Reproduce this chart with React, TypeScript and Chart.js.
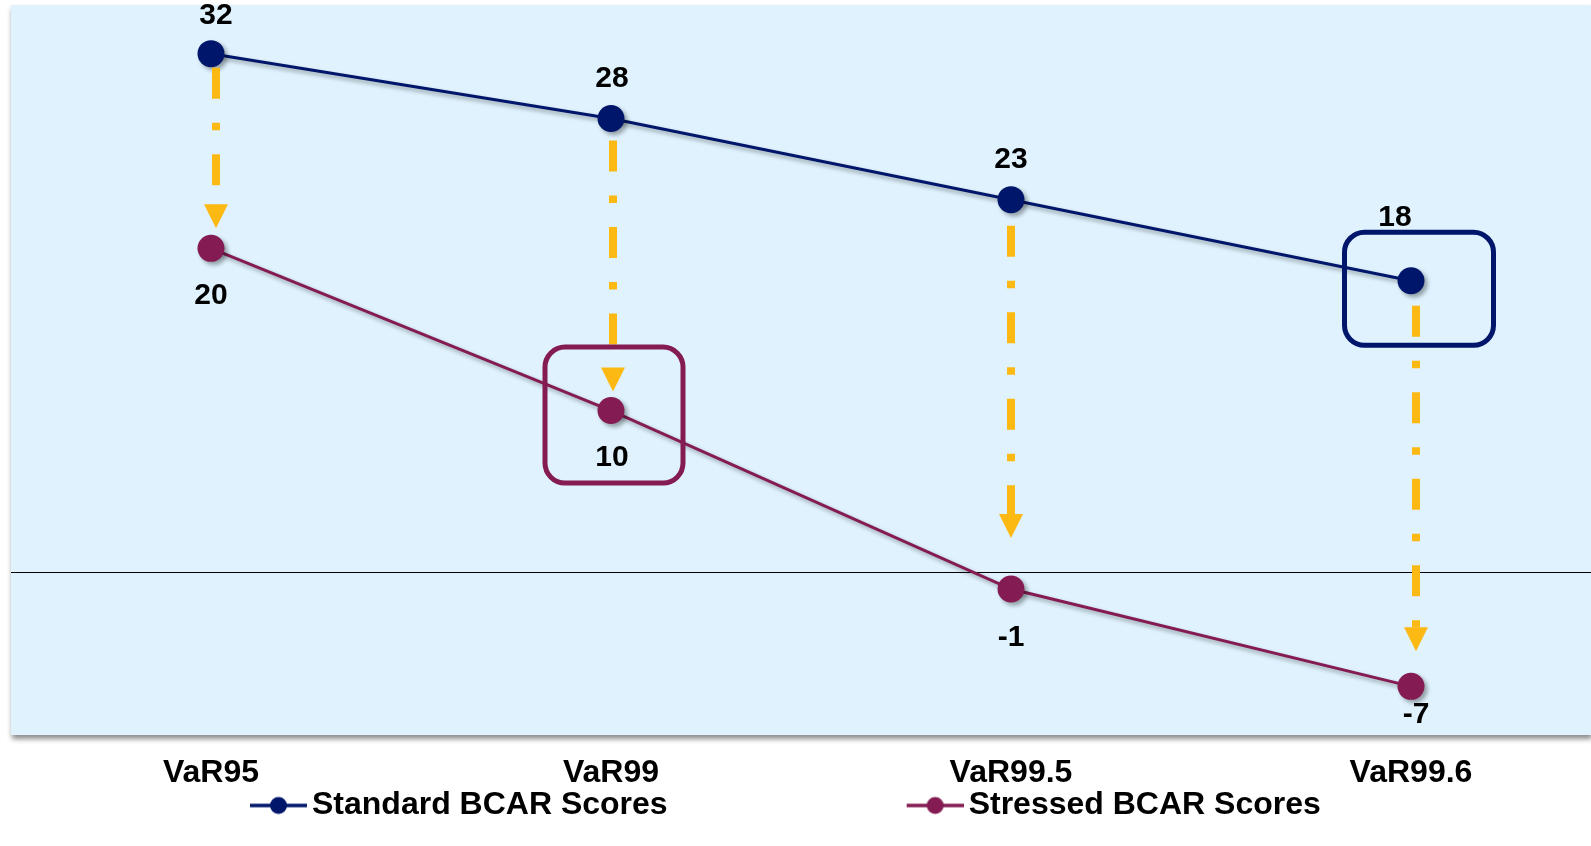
import React, { useEffect, useRef } from "react";
import { Chart, registerables } from "chart.js";

Chart.register(...registerables);

// ---------- data ----------
const categories = ["VaR95", "VaR99", "VaR99.5", "VaR99.6"];
const standardScores = [32, 28, 23, 18];
const stressedScores = [20, 10, -1, -7];
const seriesNames = ["Standard BCAR Scores", "Stressed BCAR Scores"];
const yMin = -10;
const yMax = 35;

// ---------- styles ----------
const NAVY = "#00166B";
const PLUM = "#841B52";
const GOLD = "#FDB913";
const PLOT_BG = "#DFF2FD";
const SANS = '"Liberation Sans", Arial, sans-serif';

const labelOffsets = [
  [{ dx: 5, dy: -37.5 }, { dx: 1, dy: -39.5 }, { dx: 0, dy: -39.5 }, { dx: -16, dy: -63.5 }],
  [{ dx: 0, dy: 47.5 }, { dx: 1, dy: 47.5 }, { dx: 0, dy: 48.5 }, { dx: 5, dy: 28 }],
];
const arrowGaps = [
  { dx: 5, start: 14, end: 20 },
  { dx: 2, start: 22, end: 19 },
  { dx: 0, start: 26, end: 51 },
  { dx: 5, start: 25, end: 35 },
];
const highlights = [
  { dataset: 1, index: 1, dx: 3, dy: 4.5, w: 138, h: 136, color: PLUM },
  { dataset: 0, index: 3, dx: 8, dy: 8, w: 149, h: 113, color: NAVY },
];

const LEGEND_FONT = 32;
const LEGEND_PAD = 285;

function makeMarker(color: string): HTMLCanvasElement {
  const len = 57;
  const c = document.createElement("canvas");
  c.width = LEGEND_PAD + LEGEND_FONT - 10;
  c.height = 20;
  const g = c.getContext("2d")!;
  const x0 = c.width - len;
  g.strokeStyle = color;
  g.lineWidth = 3.5;
  g.beginPath();
  g.moveTo(x0, 10);
  g.lineTo(c.width, 10);
  g.stroke();
  g.fillStyle = color;
  g.beginPath();
  g.arc(x0 + len / 2, 10, 8.5, 0, Math.PI * 2);
  g.fill();
  return c;
}

export default function App() {
  const ref = useRef<HTMLCanvasElement | null>(null);

  useEffect(() => {
    if (!ref.current) return;
    const markers = [makeMarker(NAVY), makeMarker(PLUM)];

    const plotBg = {
      id: "plotBg",
      beforeDraw(chart: any) {
        const { ctx, chartArea: a } = chart;
        ctx.save();
        ctx.shadowColor = "rgba(0,0,0,0.45)";
        ctx.shadowBlur = 5;
        ctx.shadowOffsetX = 1;
        ctx.shadowOffsetY = 4;
        ctx.fillStyle = PLOT_BG;
        ctx.fillRect(a.left, a.top, a.right - a.left, a.bottom - a.top);
        ctx.restore();
      },
    };

    const decorations = {
      id: "decorations",
      beforeDatasetsDraw(chart: any) {
        const ctx = chart.ctx;
        ctx.save();
        ctx.shadowColor = "rgba(0,0,0,0.35)";
        ctx.shadowBlur = 4;
        ctx.shadowOffsetX = 3;
        ctx.shadowOffsetY = 3;
      },
      afterDatasetsDraw(chart: any) {
        const ctx = chart.ctx;
        ctx.restore();
        const m0 = chart.getDatasetMeta(0).data;
        const m1 = chart.getDatasetMeta(1).data;
        // arrows
        categories.forEach((_, i) => {
          const p0 = m0[i];
          const p1 = m1[i];
          const g = arrowGaps[i];
          const x = p0.x + g.dx;
          const y0 = p0.y + g.start;
          const tip = p1.y - g.end;
          const headH = 24;
          const headW = 24;
          ctx.save();
          ctx.strokeStyle = GOLD;
          ctx.lineWidth = 8;
          ctx.lineCap = "butt";
          ctx.setLineDash([31, 24, 7.5, 24]);
          ctx.beginPath();
          ctx.moveTo(x, y0);
          ctx.lineTo(x, tip - headH);
          ctx.stroke();
          ctx.setLineDash([]);
          ctx.fillStyle = GOLD;
          ctx.beginPath();
          ctx.moveTo(x - headW / 2, tip - headH);
          ctx.lineTo(x + headW / 2, tip - headH);
          ctx.lineTo(x, tip);
          ctx.closePath();
          ctx.fill();
          ctx.restore();
        });
        // highlight boxes
        highlights.forEach((h) => {
          const p = chart.getDatasetMeta(h.dataset).data[h.index];
          ctx.save();
          ctx.strokeStyle = h.color;
          ctx.lineWidth = 5;
          ctx.beginPath();
          (ctx as any).roundRect(p.x + h.dx - h.w / 2, p.y + h.dy - h.h / 2, h.w, h.h, 20);
          ctx.stroke();
          ctx.restore();
        });
        // data labels
        const series = [standardScores, stressedScores];
        ctx.save();
        ctx.font = `bold 30px ${SANS}`;
        ctx.fillStyle = "#000";
        ctx.textAlign = "center";
        ctx.textBaseline = "middle";
        series.forEach((vals, d) => {
          const meta = chart.getDatasetMeta(d).data;
          vals.forEach((v, i) => {
            const o = labelOffsets[d][i];
            ctx.fillText(String(Math.round(v)), meta[i].x + o.dx, meta[i].y + o.dy);
          });
        });
        ctx.restore();
      },
    };

    const chart = new Chart(ref.current, {
      type: "line",
      data: {
        datasets: [
          {
            label: seriesNames[0],
            data: standardScores.map((v, i) => ({ x: i, y: v })),
            borderColor: NAVY,
            backgroundColor: NAVY,
            borderWidth: 3,
            pointRadius: 13.5,
            pointBorderWidth: 0,
            pointBackgroundColor: NAVY,
            tension: 0,
          },
          {
            label: seriesNames[1],
            data: stressedScores.map((v, i) => ({ x: i, y: v })),
            borderColor: PLUM,
            backgroundColor: PLUM,
            borderWidth: 3,
            pointRadius: 13.5,
            pointBorderWidth: 0,
            pointBackgroundColor: PLUM,
            tension: 0,
          },
        ],
      },
      options: {
        responsive: false,
        animation: false,
        events: [],
        layout: { autoPadding: false, padding: { left: 11, top: 5, right: 0, bottom: 14.5 } },
        scales: {
          x: {
            type: "linear",
            min: -0.5,
            max: 3.45,
            afterBuildTicks: (s: any) => {
              s.ticks = categories.map((_, i) => ({ value: i }));
            },
            afterFit: (s: any) => {
              s.height = 54.5;
            },
            ticks: {
              callback: (v: any) => categories[v] ?? "",
              font: { family: SANS, size: 32, weight: "bold", lineHeight: 1.2 },
              color: "#000",
              padding: 19,
              autoSkip: false,
              maxRotation: 0,
            },
            grid: { display: false, drawTicks: false },
            border: { display: false },
          },
          y: {
            min: yMin,
            max: yMax,
            ticks: { display: false, stepSize: 5 },
            grid: {
              drawTicks: false,
              lineWidth: 1,
              color: (c: any) => (c.tick && c.tick.value === 0 ? "#000" : "rgba(0,0,0,0)"),
            },
            border: { display: false },
          },
        },
        plugins: {
          tooltip: { enabled: false },
          legend: {
            position: "bottom",
            align: "start",
            labels: {
              usePointStyle: true,
              pointStyleWidth: LEGEND_PAD,
              padding: 0,
              color: "#000",
              font: { family: SANS, size: LEGEND_FONT, weight: "bold" },
              generateLabels: (c: any) =>
                c.data.datasets.map((ds: any, i: number) => ({
                  text: ds.label,
                  pointStyle: markers[i],
                  datasetIndex: i,
                  fillStyle: ds.borderColor,
                  strokeStyle: ds.borderColor,
                  lineWidth: 0,
                  hidden: false,
                  fontColor: "#000",
                })),
            },
          },
        },
      },
      plugins: [plotBg, decorations],
    } as any);

    return () => chart.destroy();
  }, []);

  return (
    <div style={{ position: "absolute", left: 0, top: 0, width: 1591, height: 846, background: "#fff" }}>
      <canvas ref={ref} width={1591} height={846} style={{ display: "block" }} />
    </div>
  );
}
